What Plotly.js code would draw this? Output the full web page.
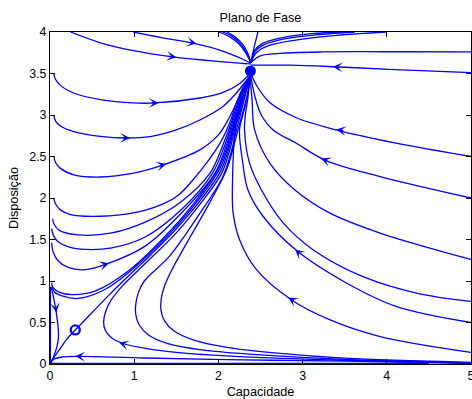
<!DOCTYPE html>
<html>
<head>
<meta charset="utf-8">
<script src="https://cdn.plot.ly/plotly-3.0.1.min.js"></script>
<style>
  html, body { margin: 0; padding: 0; background: #fff; }
  #plot { width: 472px; height: 399px; }
</style>
</head>
<body>
<div id="plot"></div>
<script>
// Phase portrait: Capacidade (x) vs Disposição (y)

// equilibria
const stableNode = { x: [2.38], y: [3.53] };
const saddlePoint = { x: [0.30], y: [0.41] };

// trajectories coming in from the top edge
const trA = { x: [0.243, 0.60, 0.99, 1.46, 1.90, 2.25, 2.385], y: [4.0, 3.87, 3.775, 3.70, 3.655, 3.625, 3.615] };
const trB = { x: [0.99, 1.39, 1.70, 2.05, 2.25, 2.385], y: [4.0, 3.92, 3.865, 3.77, 3.69, 3.625] };
const trT1 = { x: [2.00, 2.12, 2.24, 2.33, 2.385], y: [4.0, 3.95, 3.86, 3.74, 3.63] };
const trT2 = { x: [2.05, 2.16, 2.26, 2.34, 2.385], y: [4.0, 3.95, 3.86, 3.74, 3.63] };
const trT3 = { x: [2.10, 2.20, 2.29, 2.35, 2.385], y: [4.0, 3.94, 3.85, 3.74, 3.63] };
const trUp = { x: [2.385, 2.41, 2.44, 2.47], y: [3.63, 3.75, 3.88, 4.0] };
const trTR1 = { x: [2.385, 2.43, 2.52, 2.75, 3.10, 3.47], y: [3.63, 3.78, 3.86, 3.93, 3.98, 4.0] };
const trTR2 = { x: [2.385, 2.44, 2.55, 2.80, 3.20, 3.62], y: [3.63, 3.77, 3.85, 3.92, 3.97, 4.0] };
const trTR3 = { x: [2.385, 2.45, 2.58, 2.90, 3.40, 3.99], y: [3.63, 3.75, 3.83, 3.90, 3.96, 4.0] };

// trajectories coming in from the right edge
const trR376 = { x: [2.385, 2.49, 2.69, 3.24, 4.0, 5.0], y: [3.63, 3.71, 3.74, 3.76, 3.762, 3.76] };
const trR351 = { x: [2.385, 2.85, 3.40, 4.03, 5.0], y: [3.60, 3.60, 3.58, 3.55, 3.51] };
const trR1 = { x: [2.38, 2.445, 2.61, 2.92, 3.40, 4.11, 5.0], y: [3.52, 3.37, 3.15, 2.97, 2.82, 2.66, 2.50] };
const trR2 = { x: [2.38, 2.43, 2.51, 2.65, 2.925, 3.26, 3.91, 5.0], y: [3.50, 3.24, 3.0, 2.82, 2.66, 2.46, 2.26, 2.0] };
const trC3 = { x: [2.375, 2.40, 2.43, 2.61, 2.905, 3.32, 3.91, 4.50, 5.0], y: [3.47, 3.18, 2.82, 2.42, 2.10, 1.82, 1.58, 1.40, 1.26] };
const trC4 = { x: [2.375, 2.35, 2.32, 2.31, 2.37, 2.51, 2.77, 3.12, 3.71, 4.35, 5.0], y: [3.47, 3.2, 3.0, 2.82, 2.42, 2.10, 1.70, 1.38, 1.055, 0.855, 0.754] };
const trC5 = { x: [2.375, 2.34, 2.29, 2.25, 2.29, 2.35, 2.53, 2.94, 3.52, 4.11, 5.0], y: [3.47, 3.2, 3.0, 2.82, 2.42, 2.10, 1.78, 1.357, 0.976, 0.694, 0.50] };
const trC6 = { x: [2.375, 2.32, 2.26, 2.20, 2.168, 2.175, 2.25, 2.45, 2.866, 3.32, 3.91, 5.0], y: [3.47, 3.30, 3.06, 2.82, 2.22, 1.82, 1.50, 1.14, 0.775, 0.534, 0.333, 0.14] };

// trajectories starting on the left edge
const trC = { x: [0.045, 0.065, 0.12, 0.282, 0.598, 0.992, 1.25, 1.78, 2.05, 2.254, 2.375], y: [3.50, 3.43, 3.36, 3.265, 3.185, 3.145, 3.145, 3.205, 3.27, 3.38, 3.50] };
const trD = { x: [0.045, 0.065, 0.12, 0.282, 0.598, 0.914, 1.19, 1.5, 1.78, 2.05, 2.2, 2.375], y: [3.0, 2.93, 2.87, 2.80, 2.742, 2.723, 2.74, 2.82, 2.94, 3.10, 3.25, 3.47] };
const trE = { x: [0.045, 0.065, 0.12, 0.282, 0.598, 0.992, 1.347, 1.78, 2.0, 2.13, 2.24, 2.375], y: [2.50, 2.43, 2.36, 2.28, 2.253, 2.30, 2.40, 2.58, 2.76, 2.97, 3.2, 3.47] };
const trF = { x: [0.045, 0.065, 0.12, 0.243, 0.598, 0.992, 1.30, 1.52, 1.70, 1.88, 2.03, 2.14, 2.205, 2.285, 2.375], y: [2.0, 1.93, 1.86, 1.80, 1.78, 1.82, 1.91, 2.03, 2.22, 2.45, 2.68, 2.92, 3.12, 3.32, 3.47] };
const trG = { x: [0.03, 0.05, 0.11, 0.34, 0.736, 1.13, 1.55, 1.90, 2.05, 2.15, 2.215, 2.295, 2.375], y: [1.75, 1.68, 1.61, 1.555, 1.58, 1.71, 1.95, 2.30, 2.63, 2.90, 3.10, 3.31, 3.47] };
const trH = { x: [0.02, 0.04, 0.10, 0.222, 0.42, 0.736, 1.13, 1.58, 1.93, 2.07, 2.16, 2.225, 2.30, 2.375], y: [1.63, 1.55, 1.47, 1.41, 1.38, 1.40, 1.53, 1.88, 2.30, 2.62, 2.89, 3.09, 3.3, 3.47] };
const trI = { x: [0.02, 0.035, 0.09, 0.222, 0.42, 0.66, 1.13, 1.6, 1.96, 2.09, 2.17, 2.235, 2.305, 2.375], y: [1.46, 1.36, 1.25, 1.16, 1.136, 1.20, 1.42, 1.86, 2.30, 2.62, 2.88, 3.08, 3.3, 3.47] };
const trJ = { x: [0.02, 0.035, 0.10, 0.263, 0.54, 0.93, 1.33, 1.72, 2.0, 2.11, 2.18, 2.24, 2.31, 2.375], y: [0.98, 0.92, 0.87, 0.835, 0.88, 1.12, 1.50, 1.95, 2.36, 2.64, 2.88, 3.08, 3.3, 3.47] };
const trK = { x: [0.03, 0.05, 0.144, 0.34, 0.657, 1.0, 1.4, 1.78, 2.02, 2.12, 2.185, 2.245, 2.315, 2.375], y: [0.93, 0.87, 0.82, 0.79, 0.90, 1.16, 1.55, 2.0, 2.36, 2.63, 2.87, 3.07, 3.3, 3.47] };
const trL = { x: [0.01, 0.03, 0.05, 0.07, 0.088, 0.10, 0.098, 0.08, 0.05, 0.022, 0.004], y: [0.93, 0.86, 0.76, 0.65, 0.52, 0.40, 0.30, 0.20, 0.11, 0.04, 0.005] };

// separatrix branches leaving the saddle
const trSaddleUp = { x: [0.30, 0.5, 0.7, 0.9, 1.2, 1.5, 1.8, 2.03, 2.13, 2.19, 2.25, 2.32, 2.375], y: [0.41, 0.62, 0.83, 1.03, 1.32, 1.63, 1.99, 2.33, 2.62, 2.86, 3.06, 3.29, 3.47] };
const trSaddleDown = { x: [0.0, 0.04, 0.11, 0.20, 0.30], y: [0.0, 0.07, 0.17, 0.30, 0.41] };

// trajectories coming in along the bottom
const trM = { x: [5.0, 3.5, 2.314, 1.60, 1.15, 0.86, 0.72, 0.655, 0.637, 0.66, 0.72, 0.85, 1.1, 1.5, 1.8, 2.04, 2.14, 2.20, 2.26, 2.33, 2.375], y: [0.01, 0.045, 0.085, 0.13, 0.185, 0.25, 0.325, 0.41, 0.51, 0.63, 0.76, 0.93, 1.18, 1.58, 1.95, 2.30, 2.6, 2.85, 3.06, 3.3, 3.47] };
const trN = { x: [5.0, 3.5, 2.5, 1.80, 1.40, 1.17, 1.06, 1.018, 1.02, 1.05, 1.12, 1.42, 1.77, 2.05, 2.15, 2.21, 2.27, 2.335, 2.375], y: [0.014, 0.055, 0.11, 0.17, 0.245, 0.35, 0.47, 0.60, 0.73, 0.86, 1.0, 1.30, 1.80, 2.25, 2.55, 2.8, 3.04, 3.3, 3.47] };
const trO = { x: [5.0, 3.5, 2.7, 2.10, 1.70, 1.47, 1.36, 1.318, 1.322, 1.36, 1.44, 1.62, 1.90, 2.10, 2.18, 2.24, 2.30, 2.355, 2.375], y: [0.02, 0.07, 0.13, 0.2, 0.29, 0.40, 0.52, 0.65, 0.79, 0.94, 1.12, 1.45, 1.95, 2.35, 2.62, 2.85, 3.07, 3.3, 3.47] };
const trV1 = { x: [5.0, 3.5, 2.3, 1.13, 0.34, 0.15, 0.05, 0.0], y: [0.006, 0.035, 0.05, 0.072, 0.092, 0.085, 0.06, 0.01] };
const trAxisX = { x: [0.0, 4.5], y: [0.006, 0.006] };
const trAxisY = { x: [0.005, 0.005], y: [0.0, 0.93] };

const trajectories = [trA, trB, trT1, trT2, trT3, trUp, trTR1, trTR2, trTR3,
  trR376, trR351, trR1, trR2, trC3, trC4, trC5, trC6,
  trC, trD, trE, trF, trG, trH, trI, trJ, trK, trL,
  trSaddleUp, trSaddleDown, trM, trN, trO, trV1, trAxisX, trAxisY];

// direction arrows: [head x, head y, tail x, tail y]
const arrowHeads = [
  [1.50, 3.695, 1.40, 3.71],
  [1.74, 3.86, 1.64, 3.88],
  [1.29, 3.146, 1.19, 3.145],
  [0.95, 2.724, 0.85, 2.725],
  [1.38, 2.41, 1.29, 2.385],
  [0.70, 1.215, 0.62, 1.19],
  [0.075, 0.62, 0.064, 0.70],
  [0.82, 0.26, 0.90, 0.235],
  [0.30, 0.092, 0.40, 0.09],
  [3.36, 3.58, 3.46, 3.575],
  [3.40, 2.825, 3.50, 2.81],
  [3.22, 2.475, 3.31, 2.44],
  [2.91, 1.38, 2.98, 1.32],
  [2.83, 0.80, 2.91, 0.75]
];

const xTicks = [0, 1, 2, 3, 4, 5];
const yTicks = [0, 0.5, 1, 1.5, 2, 2.5, 3, 3.5, 4];

const blue = '#0000ff';
const fontFamily = '"Liberation Sans", Arial, Helvetica, sans-serif';

const traces = trajectories.map(t => ({
  type: 'scatter', mode: 'lines', x: t.x, y: t.y,
  line: { color: blue, width: 1.3, shape: 'spline', smoothing: 1 },
  hoverinfo: 'skip', showlegend: false
}));

traces.push({
  type: 'scatter', mode: 'markers', x: stableNode.x, y: stableNode.y,
  marker: { symbol: 'circle', size: 11, color: blue },
  showlegend: false, hoverinfo: 'skip'
});
traces.push({
  type: 'scatter', mode: 'markers', x: saddlePoint.x, y: saddlePoint.y,
  marker: { symbol: 'circle-open', size: 9, color: blue, line: { width: 2.3, color: blue } },
  showlegend: false, hoverinfo: 'skip'
});

const annotations = arrowHeads.map(a => ({
  x: a[0], y: a[1], ax: a[2], ay: a[3],
  xref: 'x', yref: 'y', axref: 'x', ayref: 'y',
  text: '', showarrow: true, arrowhead: 3, arrowsize: 1.35, arrowwidth: 1.2,
  arrowcolor: blue, standoff: 0, startstandoff: 0
}));

const axisCommon = {
  showline: true, linecolor: '#000', linewidth: 1, mirror: 'ticks',
  ticks: 'inside', ticklen: 5, tickwidth: 1, tickcolor: '#000',
  showgrid: false, zeroline: false, ticklabeloverflow: 'allow',
  tickfont: { family: fontFamily, size: 12.4, color: '#000' }
};

const layout = {
  width: 472, height: 399,
  margin: { l: 49.5, r: 0.5, t: 32, b: 35 },
  paper_bgcolor: '#fff', plot_bgcolor: '#fff',
  font: { family: fontFamily, color: '#000' },
  title: {
    text: 'Plano de Fase', font: { family: fontFamily, size: 12.7, color: '#000' },
    xref: 'paper', x: 0.5, xanchor: 'center', yref: 'container', y: 0.955, yanchor: 'middle'
  },
  xaxis: Object.assign({}, axisCommon, {
    range: [0, 5], tickvals: xTicks, ticktext: xTicks.map(String),
    title: { text: 'Capacidade', font: { family: fontFamily, size: 12.7, color: '#000' }, standoff: 5 }
  }),
  yaxis: Object.assign({}, axisCommon, {
    range: [0, 4], tickvals: yTicks, ticktext: yTicks.map(String),
    title: { text: 'Disposição', font: { family: fontFamily, size: 12.7, color: '#000' }, standoff: 7 }
  }),
  annotations: annotations,
  showlegend: false
};

Plotly.newPlot('plot', traces, layout, { staticPlot: true, displayModeBar: false });
</script>
</body>
</html>
